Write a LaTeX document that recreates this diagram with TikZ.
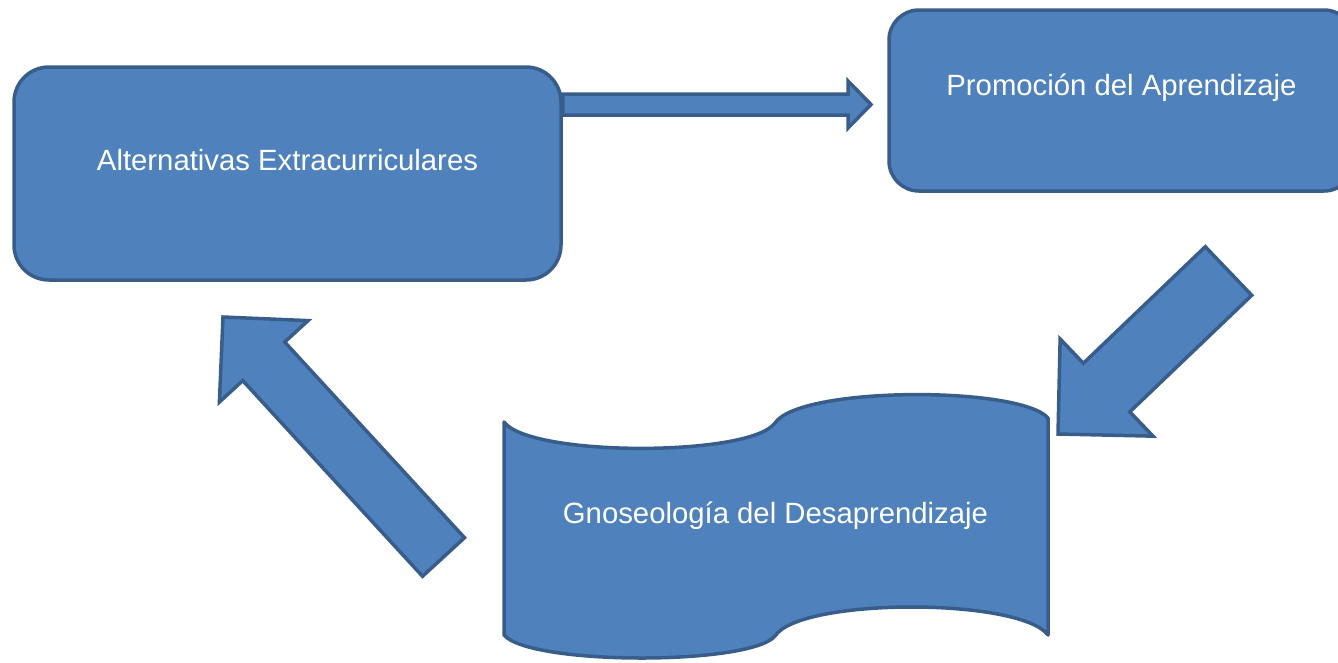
\documentclass[tikz,border=0pt]{standalone}
\usepackage{fontspec}
\setmainfont{Liberation Sans}
\usetikzlibrary{calc,positioning}
\definecolor{boxfill}{HTML}{4F81BD}
\definecolor{boxline}{HTML}{385D8A}
\tikzset{
  shapestyle/.style={fill=boxfill,draw=boxline,line width=3.5pt},
  roundbox/.style={shapestyle,rounded corners=#1,inner sep=0pt},
  boxtext/.style={text=white,font=\fontsize{29.3}{35}\selectfont,anchor=base,inner sep=0pt},
}
% tail, tip, shaft half width, head half width, head length
\newcommand{\blockarrow}[5]{%
  \coordinate (hb) at ($(#2)!#5!(#1)$);
  \draw[shapestyle] ($(#1)!#3!90:(#2)$) -- ($(hb)!#3!-90:(#1)$) -- ($(hb)!#4!-90:(#1)$)
    -- (#2) -- ($(hb)!#4!90:(#1)$) -- ($(hb)!#3!90:(#1)$) -- ($(#1)!#3!-90:(#2)$) -- cycle;}
\begin{document}
\begin{tikzpicture}[x=1pt,y=-1pt]
\useasboundingbox (0,0) rectangle (1338,662);

\node[roundbox=35pt,minimum width=547,minimum height=213] (alt) at (287.5,173.5) {};
\node[roundbox=30pt,minimum width=465,minimum height=181] (prom) at (1121.5,100.5) {};

% wave
\draw[shapestyle,line join=round] (504,422) .. controls (530,457) and (750,457) .. (775,423)
  .. controls (800,386) and (1020,386) .. (1048,418) -- (1048,635)
  .. controls (1020,597.5) and (800,597.5) .. (775,636)
  .. controls (750,665.5) and (530,665.5) .. (504,635) -- cycle;

\node[boxtext] (altlabel) at ([yshift=3.5]alt.center) {Alternativas Extracurriculares};
\node[boxtext] (promlabel) at ([yshift=5.5]prom.center) {Promoción del Aprendizaje};
\node[boxtext] (gnoslabel) at (775.5,523) {Gnoseología del Desaprendizaje};

\coordinate (r1) at (alt.east |- 0,104.5);
\coordinate (r2) at (871,104.5);
\coordinate (d1) at (1228.5,271);
\coordinate (d2) at (1058,434);
\coordinate (u1) at (443.5,557);
\coordinate (u2) at (223,317);

\blockarrow{r1}{r2}{10.5pt}{23.5pt}{23pt}
\blockarrow{d1}{d2}{33.6pt}{67.2pt}{67.2pt}
\blockarrow{u1}{u2}{28.5pt}{60.2pt}{60.2pt}
\end{tikzpicture}
\end{document}
